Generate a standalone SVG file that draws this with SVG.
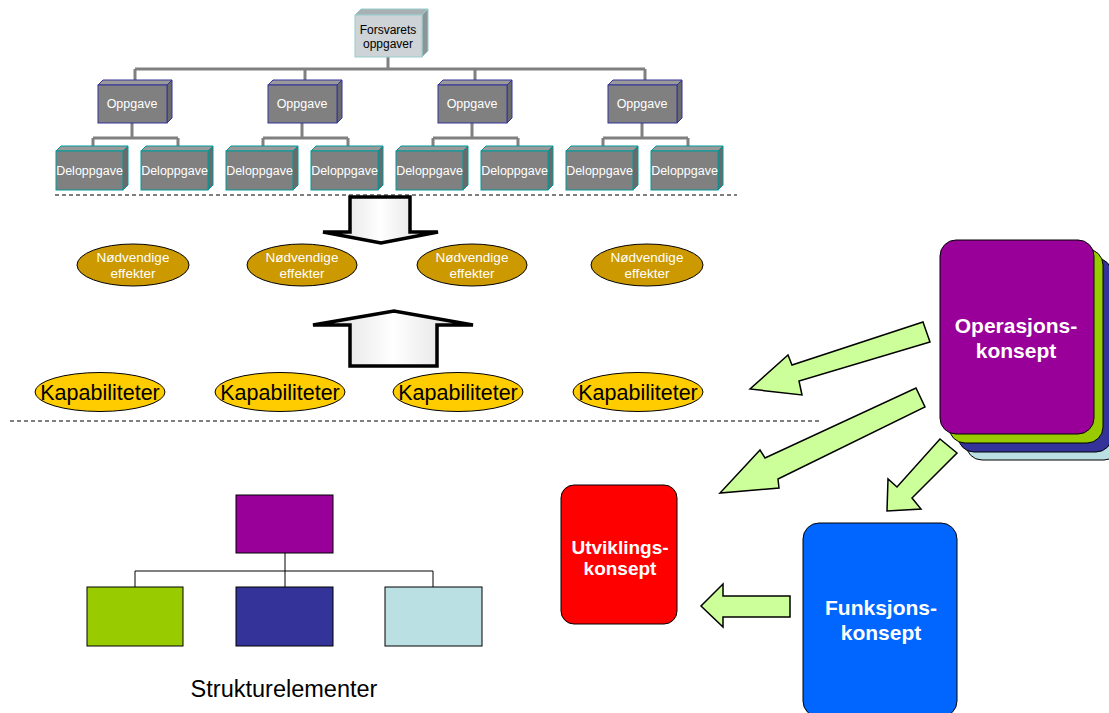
<svg xmlns="http://www.w3.org/2000/svg" width="1109" height="713" viewBox="0 0 1109 713">
<defs>
<linearGradient id="wg" x1="0" y1="0" x2="1" y2="0">
<stop offset="0" stop-color="#D8D8D8"/><stop offset="0.5" stop-color="#FFFFFF"/><stop offset="1" stop-color="#D8D8D8"/>
</linearGradient>
</defs>
<style>
text{font-family:"Liberation Sans",Arial,sans-serif;text-anchor:middle}
.gl{stroke:#808080;stroke-width:3;fill:none}
.front{fill:#808080}
.top{fill:#9A9A9A}
.side{fill:#6A6A6A}
.op{stroke:#333399;stroke-width:1}
.dl{stroke:#009999;stroke-width:1}
.bt{fill:#FFFFFF;font-size:12.5px}
.ne{fill:#CC9900;stroke:#000;stroke-width:1}
.net{fill:#FFFFFF;font-size:13.5px}
.ka{fill:#FFCC00;stroke:#000;stroke-width:1}
.kat{fill:#000;font-size:21.5px}
.dash{stroke:#000;stroke-width:1;stroke-dasharray:4 3}
.big{fill:url(#wg);stroke:#000;stroke-width:3.5;stroke-linejoin:miter}
.ga{fill:#CCFF99;stroke:#000;stroke-width:1.5;stroke-linejoin:miter}
.ct{fill:#FFFFFF;font-weight:bold}
.sl{stroke:#000;stroke-width:1;fill:none}
.sb{stroke:#000;stroke-width:1}
</style>

<g id="connectors">
<path class="gl" d="M388,57 V69 M135,69 H645 M135,69 V80 M305,69 V80 M475,69 V80 M645,69 V80"/>
<path class="gl" d="M132,123 V138 M93,138 H178 M93,138 V146 M178,138 V146"/>
<path class="gl" d="M302,123 V138 M263,138 H348 M263,138 V146 M348,138 V146"/>
<path class="gl" d="M472,123 V138 M433,138 H518 M433,138 V146 M518,138 V146"/>
<path class="gl" d="M642,123 V138 M603,138 H688 M603,138 V146 M688,138 V146"/>
<path class="sl" d="M285,553 V587 M135,571 H433 M135,571 V587 M433,571 V587"/>
</g>

<g id="forsvarets">
<polygon points="355,15 361,9 428,9 422,15" fill="#A8B0B4" stroke="#99CCCC" stroke-width="1"/>
<polygon points="422,15 428,9 428,51 422,57" fill="#8C9498" stroke="#99CCCC" stroke-width="1"/>
<rect x="355" y="15" width="67" height="42" fill="#CDD3D6" stroke="#99CCCC" stroke-width="1"/>
<text x="388" y="34" font-size="12" fill="#000">Forsvarets</text>
<text x="388" y="48" font-size="12" fill="#000">oppgaver</text>
</g>

<g id="oppgave1" class="op">
<polygon class="top" points="98,85 103,80 172,80 167,85"/><polygon class="side" points="167,85 172,80 172,118 167,123"/><rect class="front" x="98" y="85" width="69" height="38"/>
<text class="bt" x="132" y="108" stroke="none">Oppgave</text></g>
<g id="oppgave2" class="op">
<polygon class="top" points="268,85 273,80 342,80 337,85"/><polygon class="side" points="337,85 342,80 342,118 337,123"/><rect class="front" x="268" y="85" width="69" height="38"/>
<text class="bt" x="302" y="108" stroke="none">Oppgave</text></g>
<g id="oppgave3" class="op">
<polygon class="top" points="438,85 443,80 512,80 507,85"/><polygon class="side" points="507,85 512,80 512,118 507,123"/><rect class="front" x="438" y="85" width="69" height="38"/>
<text class="bt" x="472" y="108" stroke="none">Oppgave</text></g>
<g id="oppgave4" class="op">
<polygon class="top" points="608,85 613,80 682,80 677,85"/><polygon class="side" points="677,85 682,80 682,118 677,123"/><rect class="front" x="608" y="85" width="69" height="38"/>
<text class="bt" x="642" y="108" stroke="none">Oppgave</text></g>

<g id="del1" class="dl"><polygon class="top" points="56,151 61,146 128,146 123,151"/><polygon class="side" points="123,151 128,146 128,185 123,190"/><rect class="front" x="56" y="151" width="67" height="39"/><text class="bt" x="89.5" y="175" stroke="none">Deloppgave</text></g>
<g id="del2" class="dl"><polygon class="top" points="141,151 146,146 213,146 208,151"/><polygon class="side" points="208,151 213,146 213,185 208,190"/><rect class="front" x="141" y="151" width="67" height="39"/><text class="bt" x="174.5" y="175" stroke="none">Deloppgave</text></g>
<g id="del3" class="dl"><polygon class="top" points="226,151 231,146 298,146 293,151"/><polygon class="side" points="293,151 298,146 298,185 293,190"/><rect class="front" x="226" y="151" width="67" height="39"/><text class="bt" x="259.5" y="175" stroke="none">Deloppgave</text></g>
<g id="del4" class="dl"><polygon class="top" points="311,151 316,146 383,146 378,151"/><polygon class="side" points="378,151 383,146 383,185 378,190"/><rect class="front" x="311" y="151" width="67" height="39"/><text class="bt" x="344.5" y="175" stroke="none">Deloppgave</text></g>
<g id="del5" class="dl"><polygon class="top" points="396,151 401,146 468,146 463,151"/><polygon class="side" points="463,151 468,146 468,185 463,190"/><rect class="front" x="396" y="151" width="67" height="39"/><text class="bt" x="429.5" y="175" stroke="none">Deloppgave</text></g>
<g id="del6" class="dl"><polygon class="top" points="481,151 486,146 553,146 548,151"/><polygon class="side" points="548,151 553,146 553,185 548,190"/><rect class="front" x="481" y="151" width="67" height="39"/><text class="bt" x="514.5" y="175" stroke="none">Deloppgave</text></g>
<g id="del7" class="dl"><polygon class="top" points="566,151 571,146 638,146 633,151"/><polygon class="side" points="633,151 638,146 638,185 633,190"/><rect class="front" x="566" y="151" width="67" height="39"/><text class="bt" x="599.5" y="175" stroke="none">Deloppgave</text></g>
<g id="del8" class="dl"><polygon class="top" points="651,151 656,146 723,146 718,151"/><polygon class="side" points="718,151 723,146 723,185 718,190"/><rect class="front" x="651" y="151" width="67" height="39"/><text class="bt" x="684.5" y="175" stroke="none">Deloppgave</text></g>

<g id="dashlines">
<line class="dash" x1="55" y1="195" x2="737" y2="195"/>
<line class="dash" x1="10" y1="421" x2="822" y2="421"/>
</g>

<g id="downarrow"><polygon class="big" points="350,197 410,197 410,232 438,232 381,243 323,232 350,232"/></g>
<g id="uparrow"><polygon class="big" points="350,366 437,366 437,325 473,325 394,311 313,325 350,325"/></g>

<g id="effekter1"><ellipse class="ne" cx="133" cy="265" rx="56" ry="21"/><text class="net" x="133" y="262">Nødvendige</text><text class="net" x="133" y="278">effekter</text></g>
<g id="effekter2"><ellipse class="ne" cx="302" cy="265" rx="55" ry="21"/><text class="net" x="302" y="262">Nødvendige</text><text class="net" x="302" y="278">effekter</text></g>
<g id="effekter3"><ellipse class="ne" cx="472" cy="265" rx="55" ry="21"/><text class="net" x="472" y="262">Nødvendige</text><text class="net" x="472" y="278">effekter</text></g>
<g id="effekter4"><ellipse class="ne" cx="647" cy="265" rx="56" ry="21"/><text class="net" x="647" y="262">Nødvendige</text><text class="net" x="647" y="278">effekter</text></g>

<g id="kap1"><ellipse class="ka" cx="100" cy="392" rx="65" ry="19.5"/><text class="kat" x="100" y="400">Kapabiliteter</text></g>
<g id="kap2"><ellipse class="ka" cx="280" cy="392" rx="65" ry="19.5"/><text class="kat" x="280" y="400">Kapabiliteter</text></g>
<g id="kap3"><ellipse class="ka" cx="458" cy="392" rx="65" ry="19.5"/><text class="kat" x="458" y="400">Kapabiliteter</text></g>
<g id="kap4"><ellipse class="ka" cx="638" cy="392" rx="65" ry="19.5"/><text class="kat" x="638" y="400">Kapabiliteter</text></g>

<g id="operasjonskonsept">
<rect x="966" y="266" width="154" height="194" rx="16" fill="#BBE0E3" stroke="#000" stroke-width="1"/>
<rect x="958" y="258" width="154" height="194" rx="16" fill="#333399" stroke="#000" stroke-width="1"/>
<rect x="949" y="249" width="154" height="194" rx="16" fill="#99CC00" stroke="#000" stroke-width="1"/>
<rect x="940" y="240" width="154" height="194" rx="16" fill="#990099" stroke="#000" stroke-width="1"/>
<text class="ct" x="1016" y="333" font-size="21">Operasjons-</text>
<text class="ct" x="1016" y="358" font-size="21">konsept</text>
</g>

<g id="utviklingskonsept">
<rect x="561" y="485" width="116" height="139" rx="13" fill="#FF0000" stroke="#000" stroke-width="1"/>
<text class="ct" x="620" y="554" font-size="19">Utviklings-</text>
<text class="ct" x="620" y="575" font-size="19">konsept</text>
</g>

<g id="funksjonskonsept">
<rect x="803" y="523" width="154" height="194" rx="16" fill="#0066FF" stroke="#000" stroke-width="1"/>
<text class="ct" x="881" y="615" font-size="21">Funksjons-</text>
<text class="ct" x="881" y="640" font-size="21">konsept</text>
</g>

<g id="greenarrows">
<polygon class="ga" points="923,322 930,342 799,381 802,395 750,389 788,355 792,365"/>
<polygon class="ga" points="916,388 925,407 778,479 779,488 720,493 760,450 765,458"/>
<polygon class="ga" points="940,439 957,453 912,498 921,509 887,511 888,479 897,487"/>
<polygon class="ga" points="790,596 790,617 723,617 723,627 701,606 723,584 723,596"/>
</g>

<g id="strukturelementer">
<rect class="sb" x="236" y="495" width="97" height="58" fill="#990099"/>
<rect class="sb" x="87" y="587" width="96" height="59" fill="#99CC00"/>
<rect class="sb" x="236" y="587" width="97" height="59" fill="#333399"/>
<rect class="sb" x="385" y="587" width="97" height="59" fill="#BBE0E3"/>
<text x="284" y="697" font-size="23.5" fill="#000">Strukturelementer</text>
</g>
</svg>
